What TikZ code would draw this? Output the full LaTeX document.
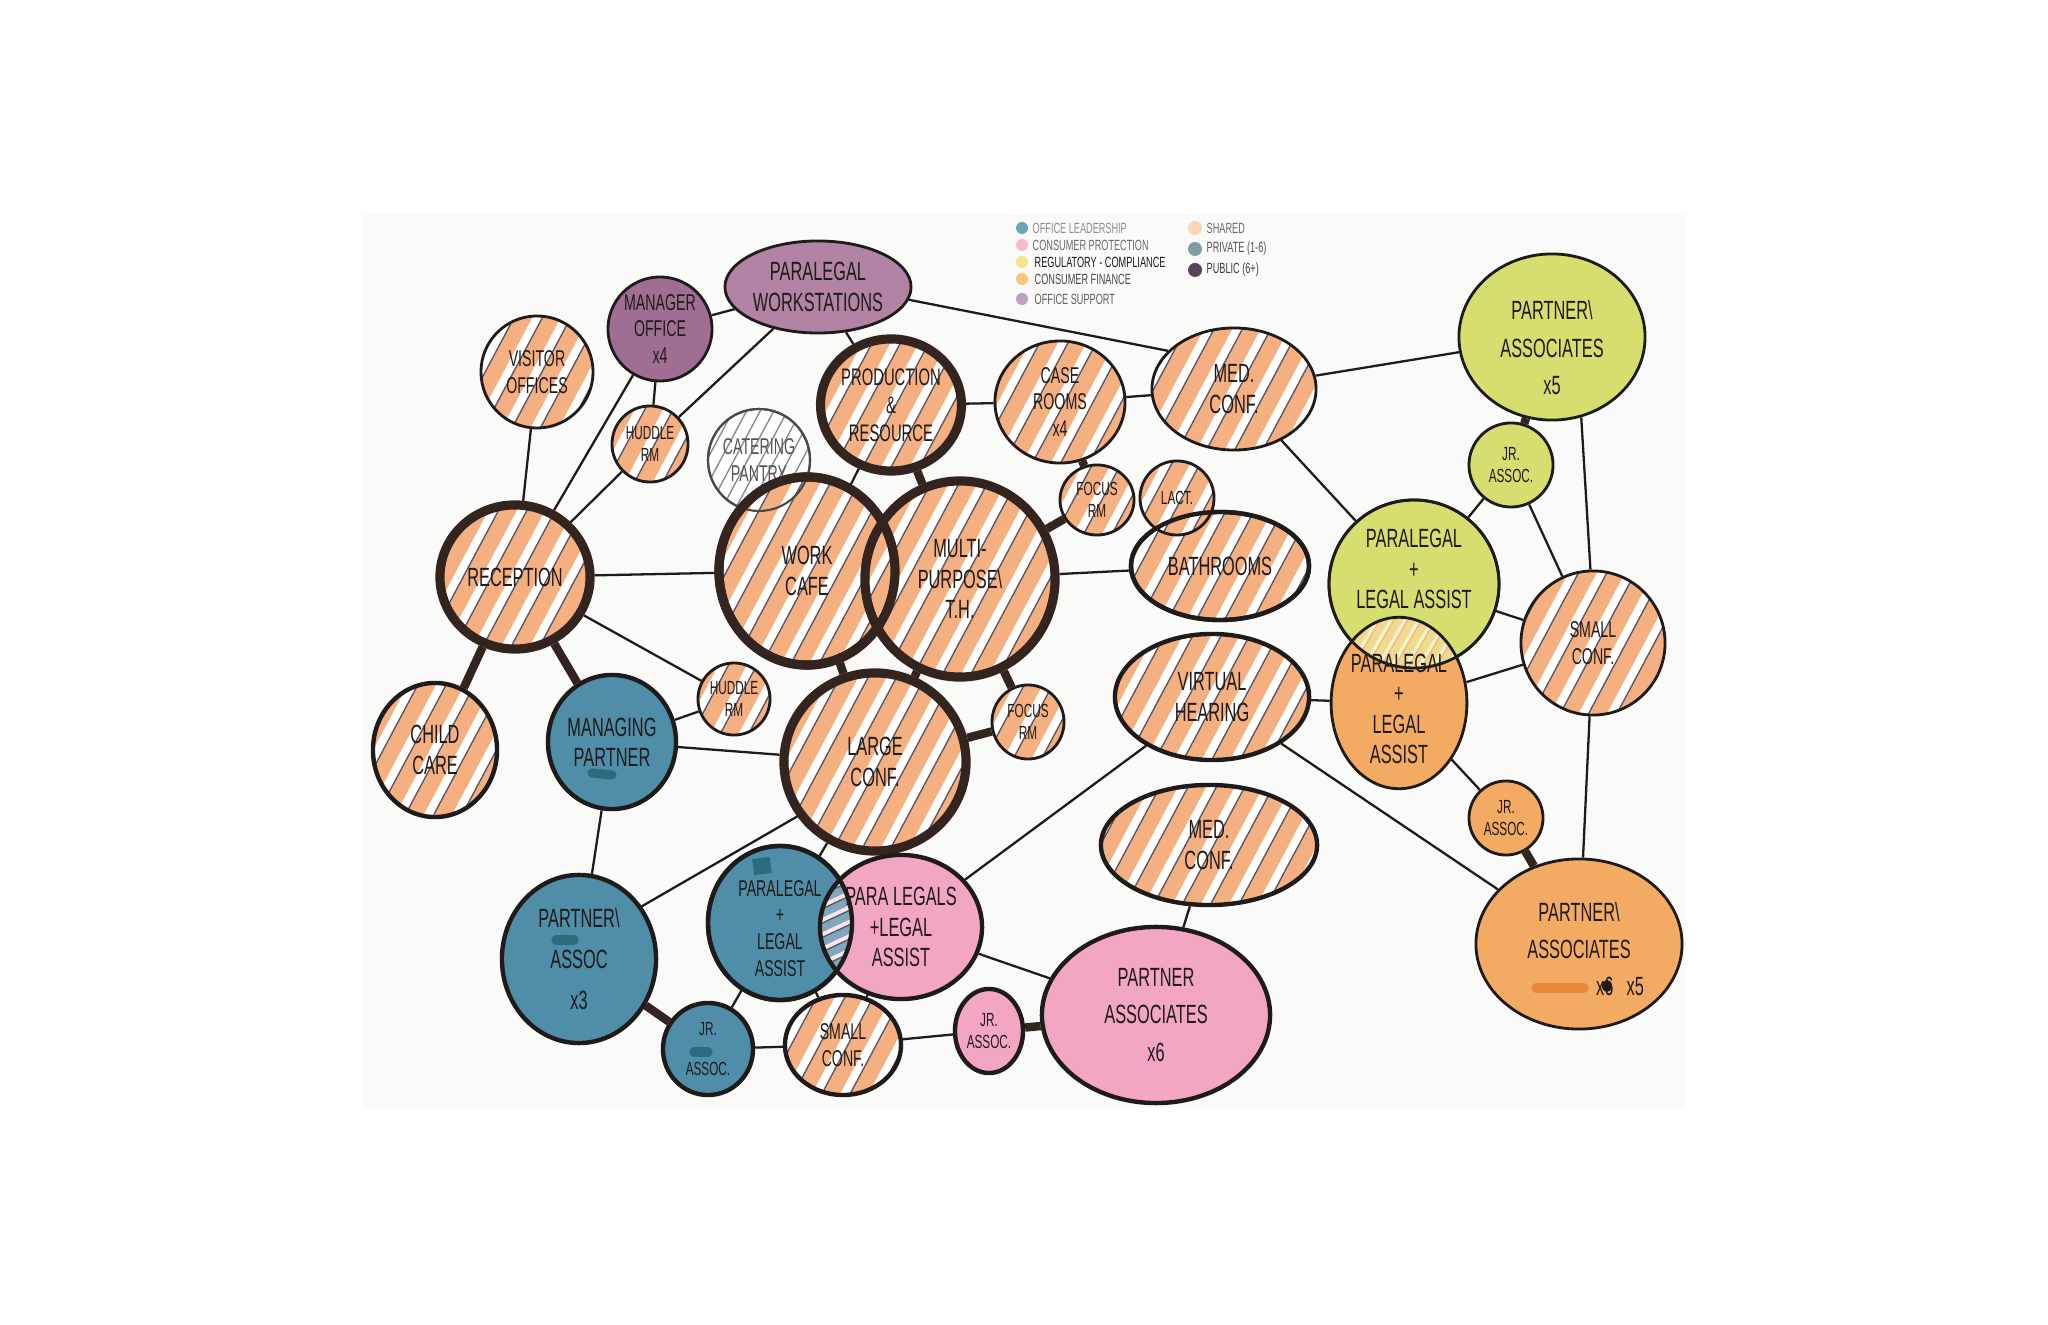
\documentclass[tikz,border=0pt]{standalone}
\usepackage{fontspec}
\setmainfont[FakeStretch=0.62]{Liberation Sans}
\usetikzlibrary{shapes.geometric}
\definecolor{peach}{HTML}{F4B081}
\definecolor{brownk}{HTML}{33241F}
\definecolor{inkc}{HTML}{1E1B1A}
\definecolor{hatchink}{HTML}{585262}
\definecolor{plum}{HTML}{B283A4}
\definecolor{plumdk}{HTML}{A06E92}
\definecolor{tealb}{HTML}{4F8DA8}
\definecolor{accblue}{HTML}{2C6A80}
\definecolor{pinkc}{HTML}{F3A6C4}
\definecolor{limec}{HTML}{D5DE6E}
\definecolor{orangec}{HTML}{F3AA62}
\definecolor{accorange}{HTML}{E8883A}
\definecolor{lensblue}{HTML}{7FA6BD}
\definecolor{lensyel}{HTML}{F1D98E}
\definecolor{paper}{HTML}{FAFAF8}
\definecolor{legblue}{HTML}{6FA3B8}
\definecolor{legpink}{HTML}{F4BCCB}
\definecolor{legyel}{HTML}{F6E38A}
\definecolor{legorange}{HTML}{F7C67A}
\definecolor{legplum}{HTML}{BDA3BA}
\definecolor{legshared}{HTML}{F8D6BC}
\definecolor{legpriv}{HTML}{7F9DA3}
\definecolor{legpub}{HTML}{5A4458}
\newcommand\fL{\fontsize{7.5}{8.6}\selectfont}
\newcommand\fP{\fontsize{6.8}{8.0}\selectfont}
\newcommand\fM{\fontsize{6.5}{7.6}\selectfont}
\newcommand\fS{\fontsize{5.4}{6.4}\selectfont}
\newcommand\fLeg{\fontsize{4.2}{5}\selectfont}
% #1 band colour, #2 line colour, #3 angle, #4 period (cm, number), #5 band width
\newcommand\stripelines[5]{%
  \foreach \i [evaluate=\i as \d using \i*#4, evaluate=\i as \e using \i*#4+0.17*#4] in {-14,...,14}{
    \draw[#1, line width=#5] ([shift={(#3-90:\d cm)}]path picture bounding box.center) ++(#3:-1.7cm) -- ++(#3:3.4cm);
    \draw[#2, line width=0.38pt] ([shift={(#3-90:\e cm)}]path picture bounding box.center) ++(#3:-1.7cm) -- ++(#3:3.4cm);
  }}
\pgfdeclarelayer{paperl}
\pgfdeclarelayer{bg}
\pgfsetlayers{paperl,bg,main}
\tikzset{
  sz/.style 2 args={minimum width={#1*0.02cm}, minimum height={#2*0.02cm}},
  bub/.style={ellipse, inner sep=0pt, align=center, draw=inkc, line width=0.8pt, text=inkc},
  midb/.style={bub, line width=1.25pt},
  thickb/.style={bub, draw=brownk, line width=2.6pt},
  stripes/.style n args={5}{path picture={\stripelines{#1}{#2}{#3}{#4}{#5}}},
  hatch/.style={fill=peach, stripes={white}{hatchink}{62}{0.25}{0.09cm}},
  grayhatch/.style={fill=white, path picture={\stripelines{white}{hatchink!70}{62}{0.12}{0.01cm}}},
  lnk/.style={draw=inkc, line width=0.65pt},
  blnk/.style={draw=brownk, line width=2.4pt},
  legtxt/.style={anchor=west, inner sep=0pt, font=\fLeg},
  accent/.style={line width=2.6pt, line cap=round},
}
\begin{document}
\begin{tikzpicture}[x=0.01cm,y=-0.01cm]
\useasboundingbox (0,0) rectangle (2048,1325);
\begin{pgfonlayer}{paperl}
\fill[white] (0,0) rectangle (2048,1325);
\fill[paper] (362,214) rectangle (1686,1108);
\end{pgfonlayer}

% ---------- legend ----------
\fill[legblue] (1022,228) circle[radius=6];
\fill[legpink] (1022,245) circle[radius=6];
\fill[legyel] (1022,262) circle[radius=6];
\fill[legorange] (1022,279) circle[radius=6];
\fill[legplum] (1022,299) circle[radius=6];
\fill[legshared] (1195,228) circle[radius=7];
\fill[legpriv] (1195,249) circle[radius=7];
\fill[legpub] (1195,270) circle[radius=7];
\node[legtxt, text=inkc!50] (lg1) at (1032,228) {OFFICE LEADERSHIP};
\node[legtxt, text=inkc!65] (lg2) at (1032,245) {CONSUMER PROTECTION};
\node[legtxt, text=inkc] (lg3) at (1034,262) {REGULATORY - COMPLIANCE};
\node[legtxt, text=inkc!80] (lg4) at (1034,279) {CONSUMER FINANCE};
\node[legtxt, text=inkc!70] (lg5) at (1034,299) {OFFICE SUPPORT};
\node[legtxt, text=inkc!65] (lg6) at (1206,228) {SHARED};
\node[legtxt, text=inkc!75] (lg7) at (1206,249) {PRIVATE (1-6)};
\node[legtxt, text=inkc!85] (lg8) at (1206,270) {PUBLIC (6+)};

% ---------- bubbles ----------
\node[bub, hatch, sz={56}{56}, font=\fM] (visitor) at (537,372) {VISITOR\\OFFICES};
\node[bub, fill=plumdk, sz={52}{52}, font=\fM] (manager) at (660,329) {MANAGER\\OFFICE\\x4};
\node[bub, fill=plum, sz={93}{46}, font=\fL] (pws) at (818,287) {PARALEGAL\\WORKSTATIONS};
\node[bub, hatch, sz={38}{38}, font=\fS] (hud1) at (650,444) {HUDDLE\\RM};
\node[bub, grayhatch, draw=inkc!80, line width=0.6pt, text=inkc!75, sz={51}{51}, font=\fM] (cater) at (759,460) {CATERING\\PANTRY};
\node[thickb, hatch, sz={66}{66}, font=\fP] (prod) at (891,405) {PRODUCTION\\\&\\RESOURCE};
\node[bub, hatch, sz={65}{61}, font=\fM] (case) at (1060,402) {CASE\\ROOMS\\x4};
\node[bub, hatch, sz={82}{61}, font=\fL] (med1) at (1234,389) {MED.\\CONF.};
\node[bub, hatch, sz={37}{35}, font=\fS] (foc1) at (1097,500) {FOCUS\\RM};
\node[midb, hatch, sz={89}{54}, font=\fL] (bath) at (1220,566) {BATHROOMS};
\node[bub, hatch, sz={37}{37}, font=\fS] (lact) at (1177,498) {LACT.};
\draw[inkc, line width=1.25pt] (1220,566) ellipse[x radius=89, y radius=54];
\node[thickb, hatch, sz={88}{94}, font=\fL] (wc) at (807,571) {WORK\\CAFE};
\draw[inkc!80, line width=0.6pt] (759,460) circle[radius=51];
\node[thickb, hatch, sz={95}{98}, font=\fL] (multi) at (960,579) {MULTI-\\PURPOSE\textbackslash\\T.H.};
\draw[brownk, line width=2.6pt] (807,571) ellipse[x radius=88, y radius=94];
\node[thickb, hatch, sz={75}{72}, font=\fL] (recep) at (515,577) {RECEPTION};
\node[midb, hatch, sz={62}{67}, font=\fL] (child) at (435,750) {CHILD\\CARE};
\node[midb, fill=tealb, sz={64}{67}, font=\fL] (mgp) at (612,742) {MANAGING\\PARTNER};
\node[bub, hatch, sz={36}{36}, font=\fS] (hud2) at (734,699) {HUDDLE\\RM};
\node[thickb, hatch, sz={91}{89}, font=\fL] (large) at (875,762) {LARGE\\CONF.};
\node[bub, hatch, sz={36}{37}, font=\fS] (foc2) at (1028,722) {FOCUS\\RM};
\node[midb, hatch, sz={97}{63}, font=\fL] (vh) at (1212,697) {VIRTUAL\\HEARING};
\node[midb, hatch, sz={108}{60}, font=\fL] (med2) at (1209,845) {MED.\\CONF.};
\node[midb, fill=pinkc, sz={114}{88}, font=\fL] (ppart) at (1156,1015) {PARTNER\\[2pt]ASSOCIATES\\[2pt]x6};
\node[midb, fill=tealb, sz={72}{77}, font=\fM] (bpara) at (780,923) {\\PARALEGAL\\+\\LEGAL\\ASSIST};
\node[midb, fill=pinkc, sz={81}{72}, font=\fL,
      path picture={\begin{scope}
        \clip ([shift={(-121,-4)}]path picture bounding box.center) ellipse[x radius=72, y radius=77];
        \fill[lensblue] (path picture bounding box.south west) rectangle (path picture bounding box.north east);
        \stripelines{pinkc!30}{lensblue!55!black}{25}{0.13}{0.05cm}
      \end{scope}}] (ppara) at (901,927) {PARA LEGALS\\+LEGAL\\ASSIST};
\draw[inkc, line width=1.25pt] (780,923) ellipse[x radius=72, y radius=77];
\node[midb, fill=tealb, sz={77}{84}, font=\fL] (pa3) at (579,959) {PARTNER\textbackslash\\[3pt]ASSOC\\[3pt]x3};
\node[midb, fill=tealb, sz={45}{46}, font=\fS] (jrb) at (708,1049) {JR.\\[5pt]ASSOC.};
\node[midb, hatch, sz={58}{50}, font=\fM] (sc1) at (843,1045) {SMALL\\CONF.};
\node[midb, fill=pinkc, sz={34}{42}, font=\fS] (jrp) at (989,1031) {JR.\\ASSOC.};
\node[bub, fill=limec, sz={93}{83}, font=\fL] (gp) at (1552,337) {\\[3pt]PARTNER\textbackslash\\[2pt]ASSOCIATES\\[2pt]x5};
\node[bub, fill=limec, sz={42}{42}, font=\fS] (jrg) at (1511,465) {JR.\\ASSOC.};
\node[bub, fill=limec, sz={85}{84}, font=\fL] (gpara) at (1414,584) {PARALEGAL\\+\\LEGAL ASSIST\\\mbox{}};
\node[bub, hatch, sz={72}{72}, font=\fM] (sc2) at (1593,643) {SMALL\\CONF.};
\node[bub, fill=orangec, sz={67}{78}, font=\fL,
      path picture={\begin{scope}
        \clip ([shift={(15,-119)}]path picture bounding box.center) ellipse[x radius=85, y radius=84];
        \fill[lensyel] (path picture bounding box.south west) rectangle (path picture bounding box.north east);
        \stripelines{limec!35!white}{orangec!85}{60}{0.12}{0.04cm}
      \end{scope}}] (opara) at (1399,703) {\\PARALEGAL\\+\\LEGAL\\ASSIST};
\draw[inkc, line width=0.8pt] (1414,584) ellipse[x radius=85, y radius=84];
\node[bub, fill=orangec, sz={37}{37}, font=\fS] (jro) at (1506,818) {JR.\\ASSOC.};
\node[bub, fill=orangec, sz={103}{85}, font=\fL] (op) at (1579,944) {PARTNER\textbackslash\\[2pt]ASSOCIATES\\[-1pt]\mbox{}};
\node[inner sep=0pt, font=\fL, text=inkc] (opx) at (1620,986) {x6\enspace x5};

% ---------- marker accents ----------
\draw[accblue, accent] (592,773) -- (612,775);
\draw[accblue, accent] (556,940) -- (574,940);
\draw[accblue, accent] (694,1052) -- (708,1052);
\draw[accblue, line width=5pt] (761,858) -- (763,874);
\draw[accorange, accent] (1536,988) -- (1584,988);
\fill[inkc] (1607,986) ellipse[x radius=5, y radius=6];

% ---------- connectors ----------
\begin{pgfonlayer}{bg}
\draw[lnk] (recep) -- (visitor);
\draw[lnk] (recep) -- (manager);
\draw[lnk] (recep) -- (hud1);
\draw[lnk] (hud1) -- (pws);
\draw[lnk] (manager) -- (hud1);
\draw[lnk] (manager) -- (pws);
\draw[lnk] (pws) -- (prod);
\draw[lnk] (pws.-8) -- (med1.150);
\draw[lnk] (prod) -- (case);
\draw[blnk] (prod) -- (multi);
\draw[lnk] (prod) -- (wc);
\draw[lnk] (case) -- (med1);
\draw[blnk] (case) -- (foc1);
\draw[blnk] (foc1) -- (multi);
\draw[lnk] (multi) -- (bath);
\draw[lnk] (wc) -- (recep);
\draw[blnk] (wc) -- (large);
\draw[blnk] (multi) -- (large);
\draw[blnk] (multi) -- (foc2);
\draw[blnk] (large) -- (foc2);
\draw[blnk] (recep) -- (child);
\draw[blnk] (recep) -- (mgp);
\draw[lnk] (recep) -- (hud2);
\draw[lnk] (mgp) -- (hud2);
\draw[lnk] (mgp) -- (large);
\draw[lnk] (mgp) -- (pa3);
\draw[lnk] (large.215) -- (pa3.40);
\draw[lnk] (large) -- (bpara);
\draw[lnk] (large) -- (ppara);
\draw[lnk] (med1) -- (gpara);
\draw[lnk] (med1) -- (gp);
\draw[lnk] (vh) -- (opara);
\draw[lnk] (vh) -- (op);
\draw[lnk] (vh) -- (ppara);
\draw[lnk] (med2) -- (ppart);
\draw[lnk] (ppara) -- (ppart);
\draw[lnk] (ppara) -- (sc1);
\draw[lnk] (bpara) -- (sc1);
\draw[lnk] (bpara) -- (jrb);
\draw[blnk] (pa3) -- (jrb);
\draw[lnk] (jrb) -- (sc1);
\draw[lnk] (sc1) -- (jrp);
\draw[blnk] (jrp) -- (ppart);
\draw[blnk] (gp) -- (jrg);
\draw[lnk] (gp.-70) -- (sc2.92);
\draw[lnk] (jrg) -- (gpara);
\draw[lnk] (jrg) -- (sc2);
\draw[lnk] (gpara) -- (sc2);
\draw[lnk] (opara) -- (sc2);
\draw[lnk] (opara) -- (jro);
\draw[blnk] (jro) -- (op);
\draw[lnk] (sc2) -- (op);
\end{pgfonlayer}
\end{tikzpicture}
\end{document}
